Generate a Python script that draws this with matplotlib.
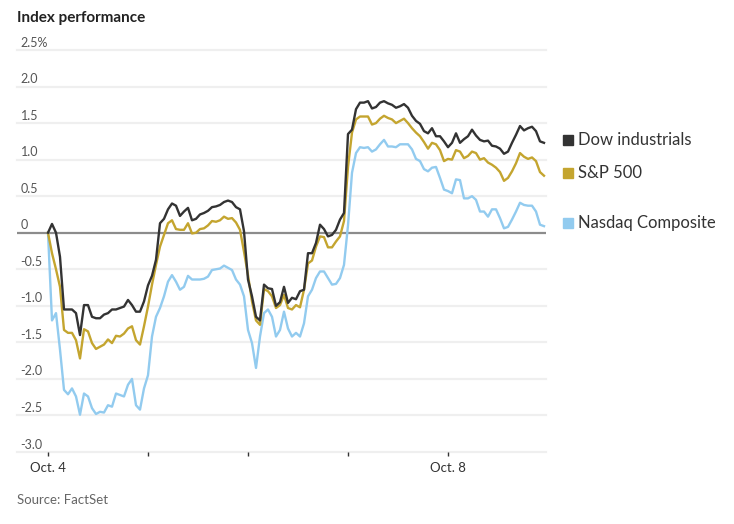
import matplotlib.pyplot as plt
import numpy as np

# percent change since Oct. 4 open, sampled 25 times per trading day
dow = [
    0.00, 0.12, 0.00, -0.33, -1.05, -1.05, -1.05, -1.10, -1.40, -0.99, -0.99, -1.15, -1.17,
    -1.17, -1.12, -1.10, -1.05, -1.05, -1.03, -1.01, -0.92, -0.99, -1.08, -1.08, -0.94,
    -0.72, -0.59, -0.37, 0.13, 0.19, 0.32, 0.40, 0.37, 0.23, 0.29, 0.34, 0.17, 0.19,
    0.25, 0.27, 0.30, 0.35, 0.36, 0.38, 0.42, 0.44, 0.42, 0.35, 0.32, 0.02,
    -0.64, -0.87, -1.15, -1.20, -0.71, -0.76, -0.77, -1.00, -0.95, -0.74, -0.96, -0.89, -0.91,
    -0.80, -0.78, -0.28, -0.28, -0.14, 0.11, 0.05, -0.05, -0.03, 0.04, 0.18, 0.27,
    1.35, 1.41, 1.69, 1.78, 1.78, 1.80, 1.70, 1.72, 1.78, 1.80, 1.77, 1.75, 1.71,
    1.73, 1.76, 1.71, 1.60, 1.53, 1.49, 1.39, 1.36, 1.43, 1.32, 1.32, 1.25,
    1.17, 1.23, 1.36, 1.23, 1.28, 1.32, 1.41, 1.33, 1.27, 1.25, 1.26, 1.19, 1.18,
    1.15, 1.08, 1.11, 1.23, 1.34, 1.46, 1.40, 1.43, 1.45, 1.39, 1.25, 1.23,
]
sp500 = [
    0.00, -0.28, -0.50, -0.74, -1.33, -1.37, -1.37, -1.47, -1.72, -1.32, -1.35, -1.51, -1.59,
    -1.56, -1.53, -1.46, -1.51, -1.41, -1.42, -1.38, -1.31, -1.28, -1.47, -1.53, -1.28,
    -1.01, -0.71, -0.44, -0.19, -0.03, 0.13, 0.17, 0.05, 0.04, 0.04, 0.13, -0.01, 0.00,
    0.05, 0.06, 0.10, 0.16, 0.15, 0.17, 0.22, 0.19, 0.20, 0.14, 0.04, -0.26,
    -0.58, -0.94, -1.20, -1.26, -0.77, -0.80, -0.87, -1.03, -0.99, -0.85, -1.03, -1.05, -0.99,
    -1.02, -0.78, -0.42, -0.38, -0.19, -0.05, -0.06, -0.20, -0.20, -0.12, -0.05, 0.16,
    0.90, 1.37, 1.55, 1.59, 1.59, 1.59, 1.48, 1.50, 1.56, 1.60, 1.57, 1.55, 1.50,
    1.53, 1.56, 1.50, 1.43, 1.37, 1.32, 1.24, 1.15, 1.23, 1.21, 1.13, 0.98,
    1.01, 1.00, 1.13, 1.11, 1.02, 1.05, 1.11, 1.09, 1.00, 1.02, 0.96, 0.93, 0.89,
    0.83, 0.71, 0.75, 0.84, 0.95, 1.09, 1.04, 1.01, 1.03, 0.98, 0.83, 0.78,
]
nasdaq = [
    0.00, -1.20, -1.10, -1.60, -2.15, -2.21, -2.13, -2.24, -2.49, -2.20, -2.24, -2.40, -2.48,
    -2.45, -2.46, -2.36, -2.38, -2.20, -2.22, -2.24, -2.08, -2.00, -2.36, -2.42, -2.13,
    -1.95, -1.42, -1.15, -1.03, -0.87, -0.67, -0.58, -0.67, -0.78, -0.74, -0.59, -0.64, -0.64,
    -0.64, -0.63, -0.60, -0.51, -0.50, -0.49, -0.45, -0.48, -0.51, -0.64, -0.71, -0.87,
    -1.33, -1.51, -1.85, -1.42, -1.10, -1.05, -1.15, -1.42, -1.33, -1.08, -1.31, -1.42, -1.37,
    -1.42, -1.24, -0.87, -0.78, -0.62, -0.53, -0.53, -0.62, -0.71, -0.70, -0.62, -0.44,
    0.10, 0.82, 1.09, 1.17, 1.16, 1.17, 1.11, 1.14, 1.21, 1.27, 1.18, 1.18, 1.17,
    1.21, 1.21, 1.21, 1.14, 1.01, 0.98, 0.87, 0.84, 0.89, 0.90, 0.75, 0.59,
    0.57, 0.54, 0.73, 0.72, 0.47, 0.47, 0.50, 0.45, 0.29, 0.29, 0.22, 0.32, 0.32,
    0.20, 0.06, 0.08, 0.18, 0.29, 0.41, 0.38, 0.37, 0.37, 0.29, 0.11, 0.09,
]
names = ['Dow industrials', 'S&P 500', 'Nasdaq Composite']
colors = ['#333333', '#c4a52f', '#92cbef']
day_labels = ['Oct. 4', '', '', '', 'Oct. 8']
yticks = [2.5, 2.0, 1.5, 1.0, 0.5, 0, -0.5, -1.0, -1.5, -2.0, -2.5, -3.0]

plt.rcParams['font.family'] = ['Lato', 'DejaVu Sans']

t = np.arange(len(dow)) / 25.0

fig = plt.figure(figsize=(7.34, 5.24), dpi=100)
ax = fig.add_axes([17 / 734, 1 - 452 / 524, 529 / 734, 402 / 524])
x0, x1 = -0.31, 4.98
ax.set_xlim(x0, x1)
ax.set_ylim(-3.0, 2.5)

for v in yticks:
    if v == 0:
        continue
    ax.axhline(v, color='#efefef', lw=1.6, clip_on=False, zorder=0)
    lab = '2.5%' if v == 2.5 else f'{v:.1f}'
    ax.text(x0 + 0.035, v + 0.02, lab, fontsize=9, color='#555555', va='bottom', ha='left')
ax.axhline(0, color='#8c8c8c', lw=1.6, zorder=1)
ax.text(x0 + 0.035, 0.02, '0', fontsize=9, color='#555555', va='bottom', ha='left')

for s, c in zip([nasdaq, sp500, dow], colors[::-1]):
    ax.plot(t, s, color=c, lw=1.7, zorder=3, solid_joinstyle='round')

for s, name, c in zip([dow, sp500, nasdaq], names, colors):
    ly = s[-1] + 0.04
    ax.plot([5.195], [ly], marker='s', ms=7, color=c, clip_on=False)
    ax.text(5.3, ly, name, fontsize=12, color='#333333', va='center', ha='left')

ax.set_xticks(range(5))
ax.set_xticklabels(day_labels, fontsize=9.5, color='#333333')
ax.tick_params(axis='x', length=3, width=1, color='#333333', pad=4)
ax.set_yticks([])
for sp in ax.spines.values():
    sp.set_visible(False)

fig.text(17 / 734, 1 - 18 / 524, 'Index performance', fontsize=11, fontweight='bold',
         color='#222222', va='center', ha='left')
fig.text(17 / 734, 1 - 500 / 524, 'Source: FactSet', fontsize=9.5, color='#666666',
         va='center', ha='left')

fig.savefig('out.png', dpi=100)
